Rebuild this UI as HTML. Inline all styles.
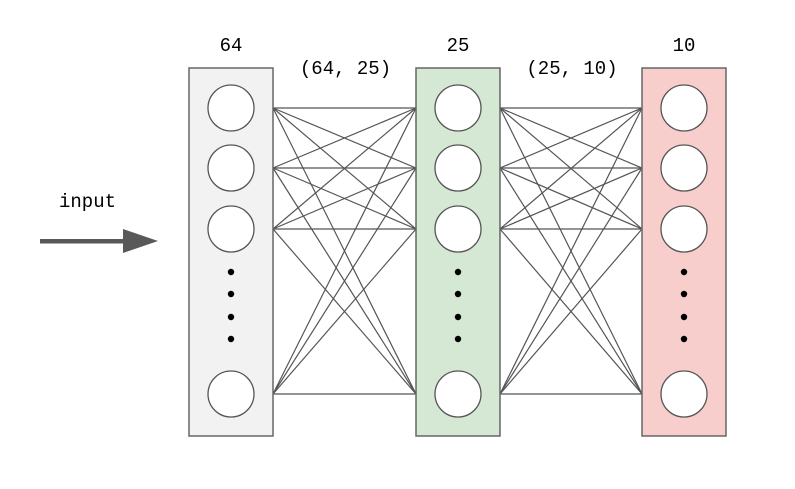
<!DOCTYPE html>
<html><head><meta charset="utf-8"><style>
body{margin:0;background:#fff}
svg text{font-family:"Liberation Mono","DejaVu Sans Mono",monospace;font-size:19px;fill:#000}
</style></head><body>
<svg width="795" height="484" viewBox="0 0 795 484">
<g id="edges"></g>
<g id="layers"></g>
<text x="59" y="207" font-size="20">input</text>
<g>
<rect x="40" y="239" width="86" height="4.5" fill="#595959"/>
<polygon points="123,229 158,241 123,253" fill="#595959"/>
</g>
</svg>
<script>
const layerSizes=["64","25","10"];
const shapeLabels=["(64, 25)","(25, 10)"];
const layerX=[189,416,642];
const fills=["#f2f2f2","#d5e8d4","#f8cecc"];
const nodeY=[108,168,229,394];
const dotY=[272,294,317,339];
const ns="http://www.w3.org/2000/svg";
const L=document.getElementById('layers'),E=document.getElementById('edges');
const W=84;
function mk(t,a,p){const e=document.createElementNS(ns,t);for(const k in a)e.setAttribute(k,a[k]);p.appendChild(e);return e;}
layerX.forEach((x,i)=>{
 const g=mk('g',{},L);
 
 
 mk('rect',{x:x,y:68,width:W,height:368,fill:fills[i],stroke:'#666','stroke-width':1.5},g);
 nodeY.forEach(y=>{const c=mk('circle',{cx:x+W/2,cy:y,r:23,fill:'#fff',stroke:'#555','stroke-width':1.3},g);
  
  });
 dotY.forEach(y=>mk('circle',{cx:x+W/2,cy:y,r:3.2,fill:'#000'},g));
 const t=mk('text',{x:x+W/2,y:51,'text-anchor':'middle'},g);t.textContent=layerSizes[i];
 
 
 if(i<layerX.length-1){
  const x1=x+W,x2=layerX[i+1];
  nodeY.forEach(a=>nodeY.forEach(b=>mk('line',{x1:x1,y1:a,x2:x2,y2:b,stroke:'#555','stroke-width':1.2},E)));
  const s=mk('text',{x:(x1+x2)/2+1,y:74,'text-anchor':'middle','font-size':'17'},L);s.textContent=shapeLabels[i];
  
  
 }
});
</script>
</body></html>
